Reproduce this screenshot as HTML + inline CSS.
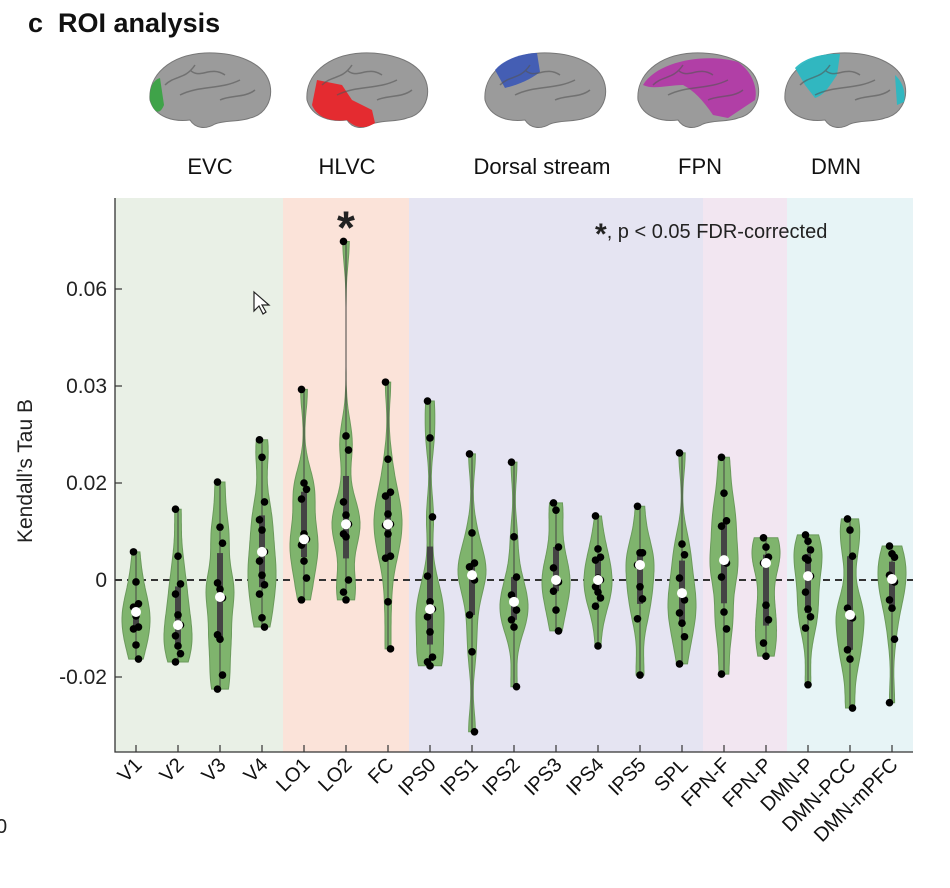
<!DOCTYPE html>
<html><head><meta charset="utf-8">
<style>
body{margin:0;background:#fff;}
svg{display:block;font-family:"Liberation Sans",Arial,sans-serif;}
</style></head>
<body>
<svg id="chart" width="950" height="888" viewBox="0 0 950 888">
<text x="28" y="32" font-size="27" font-weight="bold" fill="#111">c&#160;&#160;ROI analysis</text>
<g id="brains"></g>
<g id="plot"></g>
</svg>
<script>
const categories=["V1","V2","V3","V4","LO1","LO2","FC","IPS0","IPS1","IPS2","IPS3","IPS4","IPS5","SPL","FPN-F","FPN-P","DMN-P","DMN-PCC","DMN-mPFC"];
const seriesPoints=[
[0.0058,-0.0004,-0.0049,-0.0056,-0.0074,-0.0097,-0.0101,-0.0134,-0.0163],
[0.0146,0.0049,-0.0008,-0.0029,-0.0072,-0.0093,-0.0115,-0.0136,-0.0152,-0.0169],
[0.0202,0.0109,0.0076,-0.0006,-0.0019,-0.0037,-0.0113,-0.0122,-0.0196,-0.0225],
[0.0289,0.0253,0.0161,0.0124,0.0103,0.0058,0.0039,0.001,-0.001,-0.0029,-0.0078,-0.0097],
[0.0393,0.0200,0.0187,0.0167,0.0095,0.0084,0.0072,0.0039,0.0004,-0.0041],
[0.0698,0.0297,0.0268,0.0161,0.0134,0.0115,0.0095,0.0089,0,-0.0025,-0.0041],
[0.0408,0.0249,0.0181,0.0173,0.0136,0.0115,0.0113,0.0095,0.0049,0.0045,-0.0045,-0.0142],
[0.0369,0.0293,0.013,0.0008,-0.0045,-0.006,-0.0076,-0.0107,-0.0159,-0.0169,-0.0177],
[0.026,0.0097,0.0035,0.0027,0.001,0,-0.0072,-0.0148,-0.0313],
[0.0243,0.0089,0.0006,-0.0031,-0.0045,-0.0062,-0.0082,-0.0097,-0.022],
[0.0159,0.0144,0.0068,0.0025,0,-0.0004,-0.0023,-0.0062,-0.0105],
[0.0132,0.0064,0.0047,0.0041,0.0004,0,-0.0014,-0.0025,-0.0037,-0.0054,-0.0136],
[0.0152,0.0056,0.0056,0.0031,-0.0014,-0.0039,-0.008,-0.0196],
[0.0262,0.0074,0.0052,0.0004,-0.0027,-0.0041,-0.0068,-0.0089,-0.0117,-0.0173],
[0.0253,0.0179,0.0122,0.0111,0.0041,0.0035,0.0006,-0.0066,-0.0101,-0.0194],
[0.0087,0.0068,0.0047,0.0035,-0.0052,-0.0082,-0.013,-0.0157],
[0.0093,0.008,0.0062,0.0045,0.0041,0.0008,-0.0025,-0.006,-0.0076,-0.0099,-0.0216],
[0.0126,0.0103,0.0049,-0.0058,-0.0072,-0.0078,-0.0144,-0.0163,-0.0264],
[0.007,0.0054,0.0047,0.001,0.0002,-0.0004,-0.0041,-0.0058,-0.0122,-0.0253]
];
const medians=[-0.0066,-0.0093,-0.0035,0.0058,0.0084,0.0115,0.0115,-0.006,0.001,-0.0045,0,0,0.0031,-0.0027,0.0041,0.0035,0.0008,-0.0072,0.0002];
const tickValues=[-0.02,0,0.02,0.04,0.06];
const tickLabels=["-0.02","0","0.02","0.03","0.06"];
const groups=["EVC","HLVC","Dorsal","FPN","DMN"];
const groupStart=[0,4,7,14,16];
const groupEnd=[3,6,13,15,18];
const groupColors=["#e9f0e6","#fbe3d9","#e5e4f2","#f2e6f1","#e7f4f6"];
const significant=["LO2"];

const NS="http://www.w3.org/2000/svg";
const plot=document.getElementById('plot');
const L=115,R=913,T=198,B=752;
const x0=136,dx=42;
const xs=i=>x0+i*dx;
const ys=v=>580-v*4850;
function mk(tag,attrs,parent){const e=document.createElementNS(NS,tag);for(const k in attrs)e.setAttribute(k,attrs[k]);(parent||plot).appendChild(e);return e;}

groups.forEach((g,i)=>{
  const xa=i===0?L:(xs(groupStart[i])+xs(groupStart[i]-1))/2;
  const xb=i===groups.length-1?R:(xs(groupEnd[i])+xs(groupEnd[i]+1))/2;
  const r=mk('rect',{x:xa,y:T,width:xb-xa,height:B-T,fill:groupColors[i]});
  
  
});
const zl=mk('line',{x1:L,x2:R,y1:ys(0),y2:ys(0),stroke:'#333','stroke-width':2,'stroke-dasharray':'7,5'});



function quant(a,q){const s=[...a].sort((p,r)=>p-r);const pos=(s.length-1)*q;const lo=Math.floor(pos),hi=Math.ceil(pos);return s[lo]+(s[hi]-s[lo])*(pos-lo);}

categories.forEach((c,i)=>{
  const pts=seriesPoints[i];
  const mn=Math.min(...pts),mx=Math.max(...pts);
  const bw=0.0045;
  const n=60,dens=[];
  for(let k=0;k<=n;k++){const v=mn+(mx-mn)*k/n;let d=0;pts.forEach(p=>{d+=Math.exp(-0.5*((v-p)/bw)**2);});dens.push([v,d]);}
  const dm=Math.max(...dens.map(d=>d[1]));
  const hw=14;
  const cx=xs(i);
  let path='';
  dens.forEach((d,k)=>{path+=(k?'L':'M')+(cx+d[1]/dm*hw).toFixed(1)+','+ys(d[0]).toFixed(1);});
  for(let k=n;k>=0;k--){const d=dens[k];path+='L'+(cx-d[1]/dm*hw).toFixed(1)+','+ys(d[0]).toFixed(1);}
  path+='Z';
  const g=mk('g',{});
  
  
  mk('path',{d:path,fill:'#7fb46d',stroke:'#6b9a5c','stroke-width':1},g);
  mk('line',{x1:cx,x2:cx,y1:ys(mx),y2:ys(mn),stroke:'#444','stroke-width':1},g);
  const q1=quant(pts,0.25),q3=quant(pts,0.75);
  mk('rect',{x:cx-3,y:ys(q3),width:6,height:ys(q1)-ys(q3),fill:'#444'},g);
  pts.forEach((p,k)=>{
    const dot=mk('circle',{cx:cx+((k%3)-1)*2.5,cy:ys(p),r:3.8,fill:'#000'},g);
    
    
  });
  const md=mk('circle',{cx:cx,cy:ys(medians[i]),r:5,fill:'#fff'},g);
  
  
  const t=mk('text',{x:0,y:0,'font-size':20,'text-anchor':'end',fill:'#111',transform:`translate(${cx+7},${B+14}) rotate(-45)`});
  t.textContent=c;
  
  
  mk('line',{x1:cx,x2:cx,y1:B,y2:B-7,stroke:'#333','stroke-width':1.2});
  if(significant.includes(c)){
    const s=mk('text',{x:cx,y:ys(mx)+2,'font-size':46,'font-weight':'bold','text-anchor':'middle',fill:'#222'});
    s.textContent='*';
    
    
  }
});
const ax=mk('path',{d:`M${L},${T}L${L},${B}L${R},${B}`,fill:'none',stroke:'#333','stroke-width':1.3});


tickValues.forEach((v,i)=>{
  mk('line',{x1:L,x2:L+7,y1:ys(v),y2:ys(v),stroke:'#333','stroke-width':1.2});
  const t=mk('text',{x:L-8,y:ys(v)+7,'font-size':21,'text-anchor':'end',fill:'#222'});
  t.textContent=tickLabels[i];
  
  
});
const yt=mk('text',{x:0,y:0,'font-size':21,'text-anchor':'middle',fill:'#222',transform:'translate(32,471) rotate(-90)'});
yt.textContent="Kendall\u2019s Tau B";


const lg=mk('text',{x:595,y:238,'font-size':20,fill:'#222'});
lg.innerHTML='<tspan font-size="30" font-weight="bold" dy="6">*</tspan><tspan dy="-6">, p &lt; 0.05 FDR-corrected</tspan>';


const cur=mk('path',{d:'M254,292 L254,311 L259,306 L263,314 L266,312 L262,305 L269,305 Z',fill:'#fff',stroke:'#222','stroke-width':1.2});


const z=mk('text',{x:-4,y:833,'font-size':20,fill:'#222'});z.textContent='0';



const brains=document.getElementById('brains');
const brainCx=[210,367,545,698,845];
const labelX=[210,347,542,700,836];
const brainNames=["EVC","HLVC","Dorsal stream","FPN","DMN"];
const brainPath='M-60,10 C-62,-15 -40,-35 -5,-37 C25,-38 55,-28 60,-5 C63,10 55,25 40,28 C30,32 15,30 5,34 C-5,40 -15,38 -20,30 C-35,32 -55,28 -60,10 Z';
const patches=[
 ['M-60,10 C-61,-2 -57,-10 -50,-12 L-46,15 C-50,25 -56,24 -60,10Z','#3aa345'],
 ['M-50,-10 L-25,-5 L-15,10 L5,20 L8,33 C0,38 -10,40 -20,30 C-35,32 -50,28 -55,15 Z','#e8252a'],
 ['M-50,-20 C-40,-32 -20,-37 -8,-37 L-5,-18 C-15,-10 -28,-5 -40,-2 Z','#3f5bb5'],
 ['M-55,-5 C-40,-30 10,-37 40,-28 C55,-18 60,0 57,10 L30,28 L15,25 C5,10 -5,0 -15,-5 C-30,-5 -45,0 -55,-5Z','#b23aa6'],
 ['M-50,-22 C-40,-33 -20,-37 -5,-36 L-8,-15 C-15,-5 -20,5 -30,8 L-40,-5Z M50,-15 C58,-8 61,3 59,12 L52,15 Z','#2bb8c2']
];
brainCx.forEach((cx,i)=>{
  const g=document.createElementNS(NS,'g');
  g.setAttribute('transform',`translate(${cx},${90})`);
  
  
  brains.appendChild(g);
  mk('path',{d:brainPath,fill:'#9b9b9b',stroke:'#777','stroke-width':1},g);
  mk('path',{d:patches[i][0],fill:patches[i][1],opacity:0.95},g);
  mk('path',{d:'M-30,5 C-10,-5 10,0 30,-10 M-20,-20 C-10,-10 0,-25 15,-15 M-45,-5 C-35,-15 -25,-10 -15,-25 M10,10 C20,5 35,8 45,0',fill:'none',stroke:'#555','stroke-width':1.5,opacity:0.6},g);
  const t=mk('text',{x:labelX[i],y:174,'font-size':22,'text-anchor':'middle',fill:'#111'},brains);
  t.textContent=brainNames[i];
  
  
});
</script>
</body></html>
